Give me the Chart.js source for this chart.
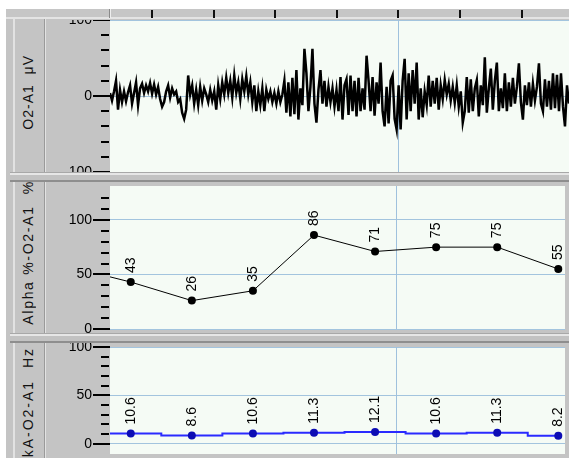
<!DOCTYPE html>
<html>
<head>
<meta charset="utf-8">
<script src="https://cdn.jsdelivr.net/npm/chart.js@4"></script>
<style>
  body { margin: 0; width: 569px; height: 458px; overflow: hidden; background: #fff; position: relative;
         font-family: "Liberation Sans", Arial, sans-serif; }
  .box { position: absolute; }
  #frame { left: 6px; top: 9px; width: 563px; height: 449px; background: #c4c4c4; }
  #ruler { left: 6px; top: 9px; width: 563px; height: 8px; background: #c6c6c6; border-bottom: 2px solid #e4e4e4; }
  .rtick { position: absolute; top: 1px; width: 2px; height: 8px; background: #111; }
  .sep { position: absolute; left: 10px; width: 559px; height: 10px;
         background: linear-gradient(#a8a8a8 0 1px, #e6e6e6 1px 3px, #c2c2c2 3px 8px, #8e8e8e 8px 10px); }
  .lbl { position: absolute; left: 20px; writing-mode: vertical-rl; transform: rotate(180deg);
         font-size: 14px; white-space: pre; line-height: 17px; color: #111; }
  canvas { position: absolute; left: 46px; }
</style>
</head>
<body>
<div id="frame" class="box"></div>
<div id="ruler" class="box"></div>
<div class="box" style="left:109px;top:9px;width:1px;height:9px;background:#8a8a8a"></div>
<div class="box" style="left:110px;top:9px;width:1px;height:9px;background:#eeeeee"></div>
<div class="box" style="left:13px;top:19px;width:2px;height:439px;background:#e2e2e2"></div>
<div class="box" style="left:44px;top:19px;width:1px;height:439px;background:#9a9a9a"></div>
<div class="box" style="left:45px;top:19px;width:1px;height:439px;background:#e2e2e2"></div>
<div class="sep" style="top:172px"></div>
<div class="sep" style="top:333px"></div>

<div class="lbl" id="lbl0" style="top:55px;letter-spacing:1px"></div>
<div class="lbl" id="lbl1" style="top:180px;letter-spacing:1.7px"></div>
<div class="lbl" id="lbl2" style="top:347px;letter-spacing:2px"></div>

<canvas id="eeg" width="523" height="152" style="top:20px"></canvas>
<canvas id="alpha" width="523" height="151" style="top:182px"></canvas>
<canvas id="peak" width="523" height="115" style="top:343px"></canvas>

<script>
// shared time axis, in epochs
const XMIN = -0.34, XMAX = 7.11;
const CURSOR = 4.34;
const RULER_TICKS = [0.34, 1.34, 2.34, 3.34, 4.34, 5.34, 6.34];

const PANEL_LABELS = ["O2-A1  \u03bcV", "Alpha %-O2-A1  %", "PkA-O2-A1  Hz"];

const EPOCHS = [-1, 0, 1, 2, 3, 4, 5, 6, 7];
const ALPHA_PCT = [57, 43, 26, 35, 86, 71, 75, 75, 55];
const PEAK_HZ = [10.4, 10.6, 8.6, 10.6, 11.3, 12.1, 10.6, 11.3, 8.2];

// raw O2-A1 trace, microvolts
const EEG_UV = [
  4, -6, 6, 20, -18, 8, -8, 6, -7, 5,
  14, -10, 4, 18, -12, 10, 16, 4, 14, 6,
  17, 3, 15, 2, 12, -4, -14, -8, 6, 14,
  -2, 10, 2, 6, -8, -4, -22, -30, -18, 27,
  2, 14, -10, 8, -12, 12, -6, 10, 2, -8,
  8, -6, 6, -18, 14, -4, 18, 2, 24, 4,
  20, -2, 27, 4, 18, -4, 22, 6, 26, 2,
  18, -8, 14, -20, 6, -12, 10, -20, 8, -4,
  6, -8, 4, -10, 6, -8, 2, 20, -22, 18,
  -27, 24, -24, 34, -31, 10, -12, 62, 30, -20,
  12, 62, -10, -35, 8, 34, -10, 20, -14, 12,
  -8, 10, -14, 8, -20, 25, -31, 14, 22, -25,
  27, -20, 20, -27, 24, -20, 10, -18, 53, 20,
  -20, 25, -26, 18, -10, 44, -20, -40, 12, -36,
  20, 27, -30, -44, 14, -44, 20, 49, -31, 30,
  -20, 34, -10, 44, -31, 10, -28, 6, -12, 27,
  -14, 20, -10, 24, -18, 14, -4, 21, 2, 16,
  -6, 12, -9, 14, -14, 6, -35, -20, 25, -22,
  22, -20, 10, 21, -27, 14, -12, 51, -22, 10,
  36, -18, 20, 44, -20, 10, -16, 30, -20, 18,
  -14, 24, -10, 12, 43, -8, -31, 14, -12, 18,
  -14, 16, -6, 12, 43, -10, -20, 22, -14, 20,
  -18, 30, -16, 28, -20, 30, -14, -40, 14, -10
];

Chart.defaults.font.family = '"Liberation Sans", Arial, sans-serif';
Chart.defaults.font.size = 14;
Chart.defaults.color = "#000";

PANEL_LABELS.forEach((t, i) => { document.getElementById("lbl" + i).textContent = t; });

RULER_TICKS.forEach(t => {
  const d = document.createElement("div");
  d.className = "rtick";
  d.style.left = (110 + (t - XMIN) / (XMAX - XMIN) * 459 - 1 - 6) + "px";
  document.getElementById("ruler").appendChild(d);
});

function isMult(v, step) {
  const r = v / step;
  return Math.abs(r - Math.round(r)) < 1e-6;
}

const plotBg = {
  id: "plotBg",
  beforeDraw(chart) {
    const { ctx, chartArea: a } = chart;
    ctx.save();
    ctx.fillStyle = "#f5fbf5";
    ctx.fillRect(a.left, a.top, a.right - a.left, a.bottom - a.top);
    ctx.restore();
  }
};

const cursorLine = {
  id: "cursorLine",
  beforeDatasetsDraw(chart) {
    const { ctx, chartArea: a } = chart;
    const x = Math.round(chart.scales.x.getPixelForValue(CURSOR)) + 0.5;
    ctx.save();
    ctx.strokeStyle = "#9fc1dd";
    ctx.lineWidth = 1;
    ctx.beginPath();
    ctx.moveTo(x, a.top);
    ctx.lineTo(x, a.bottom);
    ctx.stroke();
    ctx.restore();
  }
};

const tickMarks = {
  id: "tickMarks",
  afterDraw(chart, args, opts) {
    const { ctx, chartArea } = chart;
    const s = chart.scales.y;
    const left = chartArea.left;
    ctx.save();
    ctx.fillStyle = "#000";
    s.ticks.forEach(t => {
      if (!isMult(t.value, opts.minor)) return;
      const y = Math.round(s.getPixelForValue(t.value));
      if (isMult(t.value, opts.major)) ctx.fillRect(left - 17, y - 1, 17, 2);
      else ctx.fillRect(left - 9, y - 1, 8, 2);
    });
    ctx.restore();
  }
};

const valueLabels = {
  id: "valueLabels",
  afterDatasetsDraw(chart, args, opts) {
    const { ctx, chartArea: a } = chart;
    const meta = chart.getDatasetMeta(0);
    const data = chart.data.datasets[0].data;
    ctx.save();
    ctx.font = '14px "Liberation Sans", Arial, sans-serif';
    ctx.fillStyle = "#000";
    ctx.textAlign = "left";
    ctx.textBaseline = "middle";
    meta.data.forEach((pt, i) => {
      if (pt.x < a.left || pt.x > a.right) return;
      ctx.save();
      ctx.translate(pt.x, pt.y - 9);
      ctx.rotate(-Math.PI / 2);
      ctx.fillText(data[i].y.toFixed(opts.digits), 0, 0);
      ctx.restore();
    });
    ctx.restore();
  }
};

function yScale(min, max, minor, major) {
  return {
    min: min,
    max: max,
    afterFit(s) { s.width = 64; s.paddingTop = 0; s.paddingBottom = 0; },
    ticks: {
      stepSize: minor,
      padding: 18,
      autoSkip: false,
      callback: v => isMult(v, major) ? String(Math.abs(Math.round(v))) : ""
    },
    grid: {
      drawTicks: false,
      lineWidth: 1,
      color: c => isMult(c.tick.value, major) ? "#a3c4de" : "rgba(0,0,0,0)"
    },
    border: { display: false }
  };
}

const xScale = { type: "linear", min: XMIN, max: XMAX, display: false };

function baseOptions(y, extra) {
  return {
    responsive: false,
    animation: false,
    events: [],
    layout: { padding: 0 },
    scales: { x: xScale, y: y },
    plugins: Object.assign({ legend: { display: false }, tooltip: { enabled: false } }, extra)
  };
}

const dt = (XMAX - XMIN) / (EEG_UV.length - 1);

new Chart(document.getElementById("eeg"), {
  type: "line",
  data: {
    datasets: [{
      data: EEG_UV.map((v, i) => ({ x: XMIN + i * dt, y: v })),
      borderColor: "#000",
      borderWidth: 2.5,
      pointRadius: 0,
      tension: 0
    }]
  },
  options: baseOptions(yScale(-100, 100, 20, 100), { tickMarks: { minor: 20, major: 100 } }),
  plugins: [plotBg, cursorLine, tickMarks]
});

new Chart(document.getElementById("alpha"), {
  type: "line",
  data: {
    datasets: [{
      data: EPOCHS.map((e, i) => ({ x: e, y: ALPHA_PCT[i] })),
      borderColor: "#000",
      borderWidth: 1,
      pointRadius: 4,
      pointBackgroundColor: "#000",
      pointBorderWidth: 0,
      tension: 0
    }]
  },
  options: baseOptions(yScale(0, 131, 10, 50), { tickMarks: { minor: 10, major: 50 }, valueLabels: { digits: 0 } }),
  plugins: [plotBg, cursorLine, tickMarks, valueLabels]
});

new Chart(document.getElementById("peak"), {
  type: "line",
  data: {
    datasets: [{
      data: EPOCHS.map((e, i) => ({ x: e, y: PEAK_HZ[i] })),
      borderColor: "#2a2aff",
      borderWidth: 2,
      stepped: "middle",
      pointRadius: 4,
      pointBackgroundColor: "#0c0cb4",
      pointBorderWidth: 0
    }]
  },
  options: baseOptions(yScale(-10.6, 100, 10, 50), { tickMarks: { minor: 10, major: 50 }, valueLabels: { digits: 1 } }),
  plugins: [plotBg, cursorLine, tickMarks, valueLabels]
});
</script>
</body>
</html>
